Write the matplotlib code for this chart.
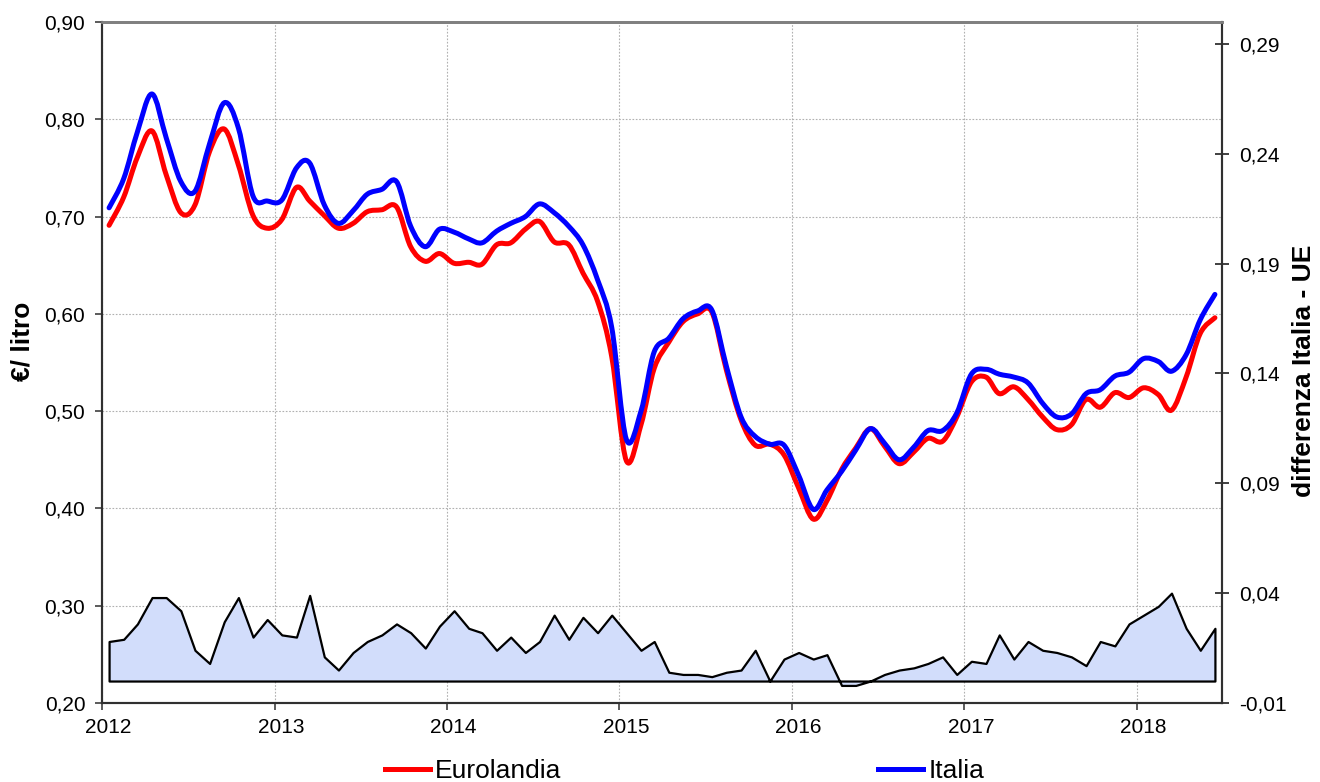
import numpy as np
import pandas as pd
import matplotlib
matplotlib.use('Agg')
import matplotlib.pyplot as plt
import matplotlib.dates as mdates
from matplotlib.path import Path
from matplotlib.patches import PathPatch
from matplotlib.lines import Line2D
from matplotlib.ticker import FuncFormatter
from matplotlib.transforms import ScaledTranslation

plt.rcParams['font.family'] = ['Liberation Sans', 'DejaVu Sans']

# monthly data, Jan 2012 - Jun 2018
months = pd.date_range('2012-01-01', periods=78, freq='MS')

eurolandia = [
    0.691, 0.720, 0.761, 0.788, 0.743, 0.704, 0.712, 0.767, 0.790, 0.753, 0.701, 0.688,  # 2012
    0.697, 0.730, 0.716, 0.701, 0.688, 0.693, 0.705, 0.707, 0.710, 0.669, 0.654, 0.662,  # 2013
    0.652, 0.653, 0.651, 0.671, 0.673, 0.687, 0.695, 0.674, 0.671, 0.642, 0.613, 0.556,  # 2014
    0.449, 0.486, 0.544, 0.571, 0.592, 0.600, 0.602, 0.542, 0.491, 0.465, 0.466, 0.455,  # 2015
    0.421, 0.389, 0.408, 0.440, 0.462, 0.482, 0.464, 0.446, 0.458, 0.472, 0.469, 0.494,  # 2016
    0.530, 0.535, 0.518, 0.525, 0.512, 0.494, 0.481, 0.486, 0.512, 0.504, 0.519, 0.514,  # 2017
    0.524, 0.517, 0.501, 0.535, 0.580, 0.596,                                            # 2018
]

italia = [
    0.709, 0.739, 0.787, 0.826, 0.781, 0.736, 0.726, 0.775, 0.817, 0.791, 0.721, 0.716,
    0.717, 0.750, 0.755, 0.712, 0.693, 0.706, 0.723, 0.728, 0.736, 0.690, 0.669, 0.687,
    0.684, 0.677, 0.673, 0.685, 0.693, 0.700, 0.713, 0.704, 0.690, 0.671, 0.635, 0.586,
    0.471, 0.500, 0.561, 0.575, 0.595, 0.603, 0.604, 0.546, 0.494, 0.474, 0.466, 0.465,
    0.434, 0.399, 0.419, 0.438, 0.460, 0.482, 0.467, 0.450, 0.463, 0.480, 0.480, 0.498,
    0.538, 0.543, 0.538, 0.535, 0.529, 0.508, 0.494, 0.497, 0.518, 0.522, 0.536, 0.540,
    0.554, 0.551, 0.541, 0.558, 0.594, 0.620,
]

# Italia - Eurolandia (right axis)
differenza = [
    0.018, 0.019, 0.026, 0.038, 0.038, 0.032, 0.014, 0.008, 0.027, 0.038, 0.020, 0.028,
    0.021, 0.020, 0.039, 0.011, 0.005, 0.013, 0.018, 0.021, 0.026, 0.022, 0.015, 0.025,
    0.032, 0.024, 0.022, 0.014, 0.020, 0.013, 0.018, 0.030, 0.019, 0.029, 0.022, 0.030,
    0.022, 0.014, 0.018, 0.004, 0.003, 0.003, 0.002, 0.004, 0.005, 0.014, 0.000, 0.010,
    0.013, 0.010, 0.012, -0.002, -0.002, 0.000, 0.003, 0.005, 0.006, 0.008, 0.011, 0.003,
    0.009, 0.008, 0.021, 0.010, 0.018, 0.014, 0.013, 0.011, 0.007, 0.018, 0.016, 0.026,
    0.030, 0.034, 0.040, 0.024, 0.014, 0.024,
]

left_ticks = [0.20, 0.30, 0.40, 0.50, 0.60, 0.70, 0.80, 0.90]
right_ticks = [-0.01, 0.04, 0.09, 0.14, 0.19, 0.24, 0.29]

x = mdates.date2num(months + pd.Timedelta(days=15))


def smooth_path(xs, ys):
    # excel style smoothed line, drawn as bezier segments through the data points
    xs = np.asarray(xs, float)
    ys = np.asarray(ys, float)
    n = len(xs)
    verts = [(xs[0], ys[0])]
    codes = [Path.MOVETO]
    for i in range(n - 1):
        i0 = max(i - 1, 0)
        i3 = min(i + 2, n - 1)
        c1 = (xs[i] + (xs[i + 1] - xs[i0]) / 6, ys[i] + (ys[i + 1] - ys[i0]) / 6)
        c2 = (xs[i + 1] - (xs[i3] - xs[i]) / 6, ys[i + 1] - (ys[i3] - ys[i]) / 6)
        verts += [c1, c2, (xs[i + 1], ys[i + 1])]
        codes += [Path.CURVE4] * 3
    return Path(verts, codes)


W, H = 1320, 782
fig = plt.figure(figsize=(W / 100, H / 100), dpi=100)
ax = fig.add_axes([102 / W, 1 - 703 / H, 1120 / W, 681 / H])
ax2 = ax.twinx()

# price lines
ax.add_patch(PathPatch(smooth_path(x, eurolandia), fill=False, edgecolor='#FF0000',
                       lw=3.6, capstyle='round', joinstyle='round', zorder=3))
ax.add_patch(PathPatch(smooth_path(x, italia), fill=False, edgecolor='#0000FF',
                       lw=3.6, capstyle='round', joinstyle='round', zorder=4))

# difference area
ax2.fill_between(x, differenza, 0, facecolor='#D2DDFB', edgecolor='black', lw=1.6)

ax.set_xlim(mdates.date2num(pd.Timestamp('2012-01-01')), mdates.date2num(pd.Timestamp('2018-07-01')))
ax.set_ylim(0.20, 0.90)
ax2.set_ylim(-0.01, 0.30)

ax.xaxis.set_major_locator(mdates.YearLocator())
ax.xaxis.set_major_formatter(mdates.DateFormatter('%Y'))
comma = FuncFormatter(lambda v, p: f'{v:.2f}'.replace('.', ','))
ax.set_yticks(left_ticks)
ax.yaxis.set_major_formatter(comma)
ax2.set_yticks(right_ticks)
ax2.yaxis.set_major_formatter(comma)

ax.grid(True, color='#B0B0B0', linestyle=(0, (1.5, 1.5)), lw=0.8)
ax.set_axisbelow(True)

ax.tick_params(axis='y', direction='out', length=5, width=1.2, labelsize=15, pad=7, color='#404040')
ax.tick_params(axis='x', direction='out', length=5, width=1.2, labelsize=15, pad=6, color='#404040')
ax2.tick_params(axis='y', direction='inout', length=10, width=1.2, labelsize=15, pad=7, color='#202020')

for lab in ax.get_xticklabels():
    lab.set_transform(lab.get_transform() + ScaledTranslation(6.5 / 100, 0, fig.dpi_scale_trans))

for a in (ax, ax2):
    for side in ('left', 'bottom', 'right'):
        a.spines[side].set_color('#303030')
        a.spines[side].set_linewidth(1.5)
    a.spines['top'].set_color('#808080')
    a.spines['top'].set_linewidth(2)

fig.text(22 / W, 1 - 341 / H, '€/ litro', rotation=90, fontsize=19, fontweight='bold',
         ha='center', va='center')
fig.text(1304 / W, 1 - 371 / H, 'differenza Italia - UE', rotation=90, fontsize=19,
         fontweight='bold', ha='center', va='center')

handles = [Line2D([], [], color='#FF0000', lw=3.6), Line2D([], [], color='#0000FF', lw=3.6)]
fig.legend(handles, ['Eurolandia', 'Italia'], ncol=2, frameon=False, fontsize=19,
           handlelength=1.7, handletextpad=0.2, columnspacing=12.0,
           loc='upper left', bbox_to_anchor=(385 / W, 1 - 759 / H),
           borderpad=0, borderaxespad=0)

fig.savefig('out.png', dpi=100)
